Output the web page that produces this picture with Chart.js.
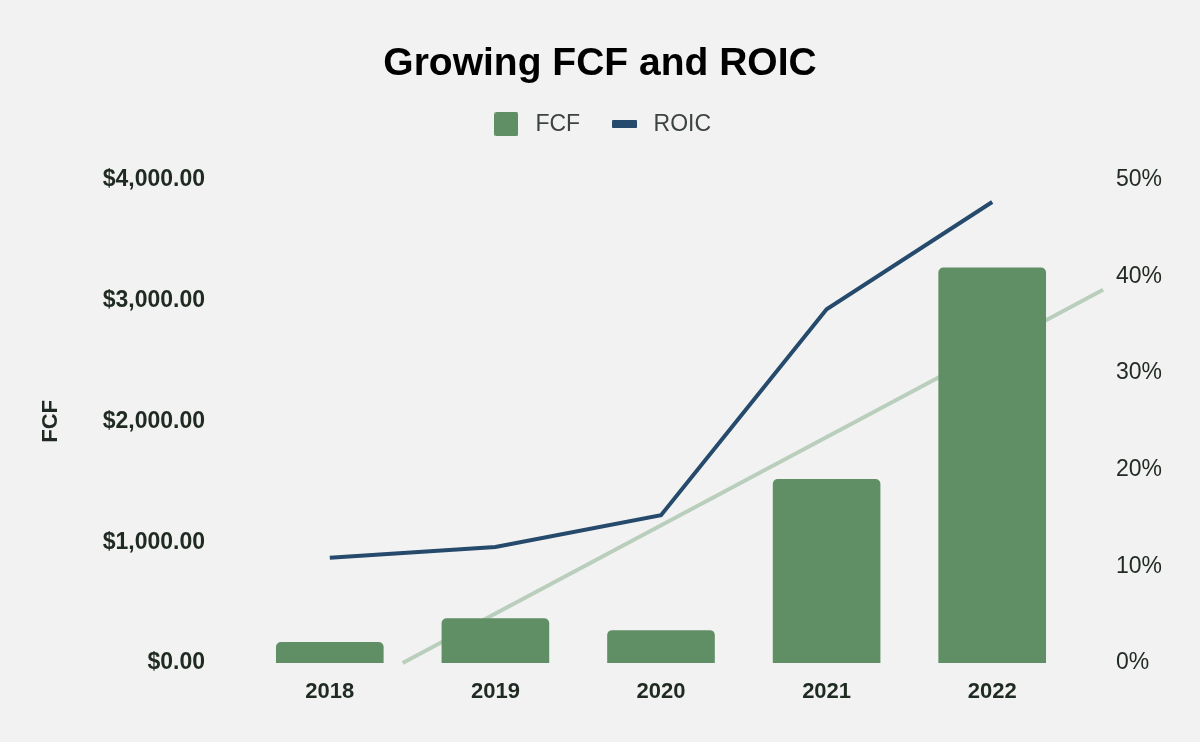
<!DOCTYPE html>
<html>
<head>
<meta charset="utf-8">
<script src="https://cdn.jsdelivr.net/npm/chart.js@4.4.0/dist/chart.umd.min.js"></script>
<style>
  html, body { margin: 0; padding: 0; background: #f2f2f2; }
  #wrap { width: 1200px; height: 742px; }
</style>
</head>
<body>
<div id="wrap"><canvas id="chart" width="1200" height="742"></canvas></div>
<script>
// === Data ===
const years = ['2018', '2019', '2020', '2021', '2022'];
const fcfValues = [173, 371, 272, 1523, 3274];
const roicValues = [10.9, 12.0, 15.3, 36.6, 47.7];
// trend line end points (category index, FCF)
const trendX = [0.44, 4.67];
const trendY = [0, 3090];

const FONT = "'Liberation Sans', Arial, sans-serif";
const GREEN = '#608f66';
const NAVY = '#264a6c';
const TREND = '#b9cfbc';

// little swatches for the legend
function makeSwatch(w, h, color, r) {
    const c = document.createElement('canvas');
    c.width = w; c.height = h;
    const g = c.getContext('2d');
    g.fillStyle = color;
    g.beginPath();
    g.roundRect(0, 0, w, h, r);
    g.fill();
    return c;
}
const fcfSwatch = makeSwatch(24, 24, GREEN, 2);
const roicSwatch = makeSwatch(25, 8, NAVY, 1);

const ctx = document.getElementById('chart');
new Chart(ctx, {
    type: 'bar',
    data: {
        labels: years,
        datasets: [
            {
                type: 'bar',
                label: 'FCF',
                data: fcfValues,
                backgroundColor: GREEN,
                borderRadius: 5,
                borderSkipped: 'bottom',
                grouped: false,
                categoryPercentage: 1,
                barPercentage: 0.65,
                yAxisID: 'y',
                order: 1
            },
            {
                type: 'line',
                label: 'ROIC',
                data: roicValues,
                borderColor: NAVY,
                backgroundColor: NAVY,
                borderWidth: 4,
                pointRadius: 0,
                tension: 0,
                yAxisID: 'y2',
                order: 1
            },
            {
                type: 'line',
                label: 'trend',
                data: trendX.map((x, i) => ({ x: x, y: trendY[i] })),
                borderColor: TREND,
                borderWidth: 4,
                pointRadius: 0,
                xAxisID: 'xTrend',
                yAxisID: 'y',
                clip: false,
                order: 2
            }
        ]
    },
    options: {
        responsive: false,
        animation: false,
        layout: { padding: 0 },
        plugins: {
            title: {
                display: true,
                text: 'Growing FCF and ROIC',
                color: '#000',
                font: { family: FONT, size: 39, weight: 'bold' },
                padding: { top: 41, bottom: -2 }
            },
            // spacer below the legend
            subtitle: {
                display: true,
                text: '',
                weight: 500,
                font: { size: 34, lineHeight: 1 },
                padding: 0
            },
            legend: {
                labels: {
                    color: '#3d433e',
                    font: { family: FONT, size: 23 },
                    usePointStyle: true,
                    pointStyleWidth: 35,
                    padding: 27,
                    generateLabels: (chart) => {
                        const items = Chart.defaults.plugins.legend.labels.generateLabels(chart)
                            .filter(it => it.datasetIndex !== 2);
                        items.forEach(it => {
                            it.pointStyle = it.datasetIndex === 0 ? fcfSwatch : roicSwatch;
                        });
                        return items;
                    }
                }
            },
            tooltip: { enabled: false }
        },
        scales: {
            x: {
                type: 'category',
                offset: true,
                grid: { display: false, drawTicks: false },
                border: { display: false },
                ticks: {
                    color: '#1f2b22',
                    font: { family: FONT, size: 22, weight: 'bold' },
                    padding: 16
                },
                afterFit: (s) => { s.height = 79; }
            },
            xTrend: {
                type: 'linear',
                display: false,
                offset: false,
                min: -0.5,
                max: 4.5
            },
            y: {
                position: 'left',
                min: 0,
                max: 4000,
                grid: { display: false, drawTicks: false },
                border: { display: false },
                ticks: {
                    stepSize: 1000,
                    color: '#1f2b22',
                    padding: 42,
                    font: { family: FONT, size: 23, weight: 'bold' },
                    callback: (v) => '$' + v.toLocaleString('en-US', { minimumFractionDigits: 2, maximumFractionDigits: 2 })
                },
                title: {
                    display: true,
                    text: 'FCF',
                    color: '#1f2b22',
                    font: { family: FONT, size: 22, weight: 'bold' },
                    padding: { top: 38, bottom: 0 }
                },
                afterFit: (s) => { s.width = 247; }
            },
            y2: {
                position: 'right',
                min: 0,
                max: 50,
                grid: { display: false, drawTicks: false },
                border: { display: false },
                ticks: {
                    stepSize: 10,
                    color: '#222b24',
                    padding: 41,
                    font: { family: FONT, size: 23 },
                    callback: (v) => v + '%'
                },
                afterFit: (s) => { s.width = 125; }
            }
        }
    }
});
</script>
</body>
</html>
